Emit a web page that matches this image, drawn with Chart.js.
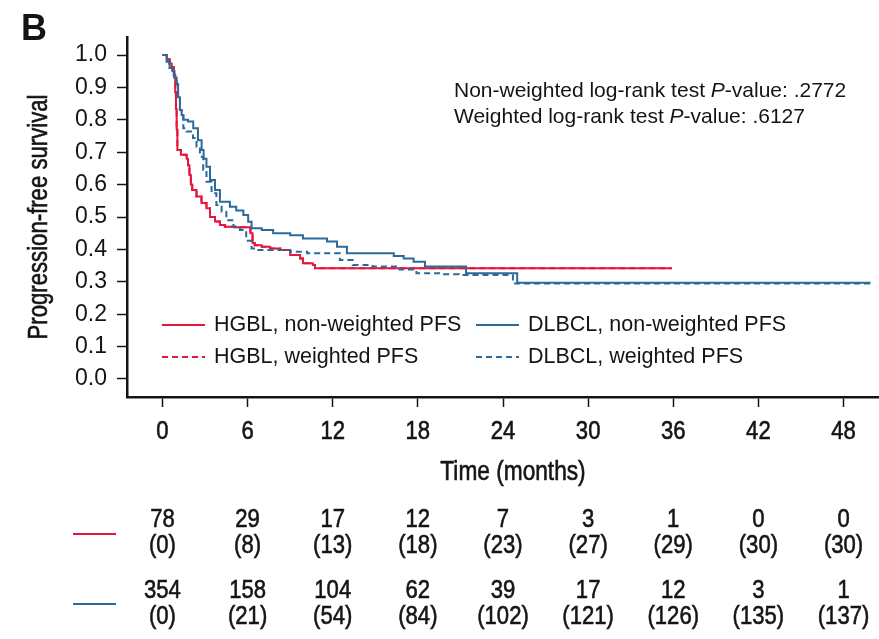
<!DOCTYPE html>
<html>
<head>
<meta charset="utf-8">
<script src="https://cdn.jsdelivr.net/npm/chart.js@4/dist/chart.umd.min.js"></script>
<style>
  html, body { margin: 0; padding: 0; background: #fff; }
  #wrap { width: 879px; height: 639px; }
</style>
</head>
<body>
<div id="wrap"><canvas id="chart" width="879" height="639"></canvas></div>
<script>
// Kaplan-Meier steps (time in months, PFS proportion)
const hgblTimes = [0, 0.3, 0.5, 0.65, 0.8, 0.9, 0.95, 1.0, 1.05, 1.3, 1.7, 1.8, 1.9, 2.0, 2.1, 2.4, 2.75, 3.1, 3.35, 3.7, 4.05, 4.4, 5.1, 6.2, 6.35, 6.5, 7.0, 7.6, 8.3, 9.0, 9.7, 9.9, 10.6, 10.75, 35.9];
const hgblPfs = [1.0, 0.987, 0.974, 0.962, 0.936, 0.885, 0.833, 0.77, 0.707, 0.692, 0.68, 0.66, 0.63, 0.60, 0.583, 0.563, 0.543, 0.527, 0.50, 0.486, 0.475, 0.47, 0.468, 0.45, 0.42, 0.413, 0.408, 0.403, 0.398, 0.383, 0.372, 0.357, 0.352, 0.342, 0.342];

const hgblWeightedTimes = [0, 0.3, 0.5, 0.65, 0.8, 0.9, 0.95, 1.0, 1.05, 1.3, 1.7, 1.8, 1.9, 2.0, 2.1, 2.4, 2.75, 3.1, 3.35, 3.7, 4.05, 4.4, 5.1, 6.2, 6.35, 6.5, 7.0, 7.6, 8.3, 9.0, 9.7, 9.9, 10.6, 10.75, 35.9];
const hgblWeightedPfs = [1.0, 0.987, 0.974, 0.962, 0.936, 0.885, 0.833, 0.77, 0.707, 0.692, 0.68, 0.66, 0.63, 0.60, 0.583, 0.563, 0.543, 0.527, 0.50, 0.486, 0.475, 0.47, 0.468, 0.45, 0.42, 0.413, 0.408, 0.403, 0.398, 0.383, 0.372, 0.357, 0.352, 0.342, 0.342];

const dlbclTimes = [0, 0.3, 0.5, 0.7, 0.85, 1.0, 1.1, 1.23, 1.35, 1.47, 1.8, 2.17, 2.5, 2.76, 2.9, 3.1, 3.35, 3.7, 4.05, 4.75, 5.2, 5.7, 6.04, 6.28, 7.0, 7.8, 9.0, 9.9, 11.6, 12.3, 13.0, 16.3, 17.0, 17.7, 18.5, 21.4, 25.0, 49.9];
const dlbclPfs = [1.0, 0.98, 0.96, 0.95, 0.93, 0.91, 0.87, 0.83, 0.815, 0.80, 0.795, 0.774, 0.737, 0.707, 0.68, 0.655, 0.614, 0.583, 0.547, 0.532, 0.52, 0.506, 0.485, 0.465, 0.46, 0.45, 0.444, 0.434, 0.424, 0.408, 0.388, 0.38, 0.372, 0.362, 0.347, 0.326, 0.297, 0.297];

const dlbclWeightedTimes = [0, 0.3, 0.5, 0.7, 0.85, 1.0, 1.1, 1.23, 1.35, 1.47, 1.7, 2.15, 2.4, 2.64, 2.87, 3.1, 3.46, 3.8, 4.17, 4.5, 5.0, 5.46, 5.9, 6.28, 6.75, 9.0, 10.2, 12.5, 13.4, 14.8, 16.7, 17.9, 19.7, 20.9, 24.7, 49.9];
const dlbclWeightedPfs = [1.0, 0.98, 0.96, 0.95, 0.93, 0.91, 0.87, 0.83, 0.815, 0.774, 0.764, 0.744, 0.717, 0.686, 0.645, 0.609, 0.573, 0.537, 0.516, 0.49, 0.47, 0.46, 0.427, 0.403, 0.398, 0.393, 0.388, 0.367, 0.352, 0.347, 0.338, 0.326, 0.323, 0.321, 0.295, 0.295];

const xTicks = [0, 6, 12, 18, 24, 30, 36, 42, 48];
const yTicks = [0, 0.1, 0.2, 0.3, 0.4, 0.5, 0.6, 0.7, 0.8, 0.9, 1.0];

// number at risk (number censored) under each x tick
const hgblAtRisk = [78, 29, 17, 12, 7, 3, 1, 0, 0];
const hgblCensored = [0, 8, 13, 18, 23, 27, 29, 30, 30];
const dlbclAtRisk = [354, 158, 104, 62, 39, 17, 12, 3, 1];
const dlbclCensored = [0, 21, 54, 84, 102, 121, 126, 135, 137];

const RED = '#e2183d';
const BLUE = '#2b6a9b';
const INK = '#141414';
const SANS = '"Liberation Sans", Arial, sans-serif';

const toPoints = (ts, ss) => ts.map((t, i) => ({ x: t, y: ss[i] }));

function kmSet(label, ts, ss, color, dashed) {
  return {
    label: label,
    data: toPoints(ts, ss),
    borderColor: color,
    borderWidth: 2,
    borderDash: dashed ? [6, 4] : [],
    stepped: 'before',
    pointRadius: 0,
    fill: false
  };
}

const datasets = [
  kmSet('DLBCL, non-weighted PFS', dlbclTimes, dlbclPfs, BLUE, false),
  kmSet('DLBCL, weighted PFS', dlbclWeightedTimes, dlbclWeightedPfs, BLUE, true),
  kmSet('HGBL, non-weighted PFS', hgblTimes, hgblPfs, RED, false),
  kmSet('HGBL, weighted PFS', hgblWeightedTimes, hgblWeightedPfs, RED, true)
];

// the figure uses a condensed, slightly heavy face; squeeze Liberation Sans
function narrowText(ctx, text, x, y, sx, angle) {
  ctx.save();
  ctx.translate(x, y);
  if (angle) ctx.rotate(angle);
  ctx.scale(sx, 1);
  ctx.strokeStyle = INK;
  ctx.lineWidth = 0.6;
  ctx.strokeText(text, 0, 0);
  ctx.fillText(text, 0, 0);
  ctx.restore();
}

// legend, p-values, panel letter, x labels and the at-risk table
const extras = {
  id: 'extras',
  afterDraw(chart) {
    const ctx = chart.ctx;
    const xs = chart.scales.x;
    const area = chart.chartArea;
    ctx.save();
    ctx.fillStyle = INK;

    // panel letter
    ctx.font = 'bold 36px ' + SANS;
    ctx.textBaseline = 'alphabetic';
    ctx.textAlign = 'left';
    ctx.fillText('B', 21, 40);

    // p-values
    const runs = [
      [['Non-weighted log-rank test ', false], ['P', true], ['-value: .2772', false]],
      [['Weighted log-rank test ', false], ['P', true], ['-value: .6127', false]]
    ];
    runs.forEach((line, i) => {
      let x = 454;
      const y = 97 + i * 26;
      line.forEach(([txt, it]) => {
        ctx.font = (it ? 'italic ' : '') + '21px ' + SANS;
        ctx.fillText(txt, x, y);
        x += ctx.measureText(txt).width;
      });
    });

    // legend
    const items = [
      { label: 'HGBL, non-weighted PFS', color: RED, dash: [], x: 162, y: 325 },
      { label: 'DLBCL, non-weighted PFS', color: BLUE, dash: [], x: 476, y: 325 },
      { label: 'HGBL, weighted PFS', color: RED, dash: [6, 4], x: 162, y: 357 },
      { label: 'DLBCL, weighted PFS', color: BLUE, dash: [6, 4], x: 476, y: 357 }
    ];
    ctx.font = '21.5px ' + SANS;
    ctx.textBaseline = 'middle';
    items.forEach(it => {
      ctx.strokeStyle = it.color;
      ctx.lineWidth = 2;
      ctx.setLineDash(it.dash);
      ctx.beginPath();
      ctx.moveTo(it.x, it.y);
      ctx.lineTo(it.x + 43, it.y);
      ctx.stroke();
      ctx.setLineDash([]);
      ctx.fillText(it.label, it.x + 52, it.y);
    });

    // x tick labels and axis titles
    ctx.textAlign = 'center';
    ctx.font = '26px ' + SANS;
    xTicks.forEach(v => narrowText(ctx, String(v), xs.getPixelForValue(v), 432, 0.85));
    ctx.font = '27px ' + SANS;
    narrowText(ctx, 'Time (months)', 513, 473, 0.84);
    narrowText(ctx, 'Progression-free survival', 40, (area.top + area.bottom) / 2, 0.82, -Math.PI / 2);

    // number at risk table
    ctx.font = '26px ' + SANS;
    const rows = [
      [hgblAtRisk, 520, false], [hgblCensored, 546, true],
      [dlbclAtRisk, 591, false], [dlbclCensored, 617, true]
    ];
    rows.forEach(([vals, y, paren]) => {
      vals.forEach((v, i) => {
        const px = xs.getPixelForValue(xTicks[i]);
        narrowText(ctx, paren ? '(' + v + ')' : String(v), px, y, 0.85);
      });
    });
    [[RED, 534], [BLUE, 604]].forEach(([c, y]) => {
      ctx.strokeStyle = c;
      ctx.lineWidth = 2;
      ctx.beginPath();
      ctx.moveTo(73, y);
      ctx.lineTo(116, y);
      ctx.stroke();
    });
    ctx.restore();
  }
};

new Chart(document.getElementById('chart'), {
  type: 'line',
  data: { datasets: datasets },
  options: {
    responsive: false,
    animation: false,
    devicePixelRatio: 1,
    layout: { padding: { top: 37, bottom: 142, left: 0, right: 0 } },
    plugins: {
      legend: { display: false },
      tooltip: { enabled: false }
    },
    scales: {
      x: {
        type: 'linear',
        min: -2.5,
        max: 50.5,
        afterBuildTicks: s => { s.ticks = xTicks.map(v => ({ value: v })); },
        afterFit: s => { s.height = 100; },
        ticks: { display: false, autoSkip: false },
        grid: { drawOnChartArea: false, tickLength: 10, tickWidth: 1.5, tickColor: INK },
        border: { color: INK, width: 2.5 }
      },
      y: {
        type: 'linear',
        min: -0.0556,
        max: 1.0556,
        afterBuildTicks: s => { s.ticks = yTicks.map(v => ({ value: v })); },
        afterFit: s => { s.width = 127; },
        ticks: {
          autoSkip: false,
          padding: 10,
          color: INK,
          font: { family: SANS, size: 23 },
          callback: v => Number(v).toFixed(1)
        },
        grid: { drawOnChartArea: false, tickLength: 10, tickWidth: 1.5, tickColor: INK },
        border: { color: INK, width: 2.5 }
      }
    }
  },
  plugins: [extras]
});
</script>
</body>
</html>
